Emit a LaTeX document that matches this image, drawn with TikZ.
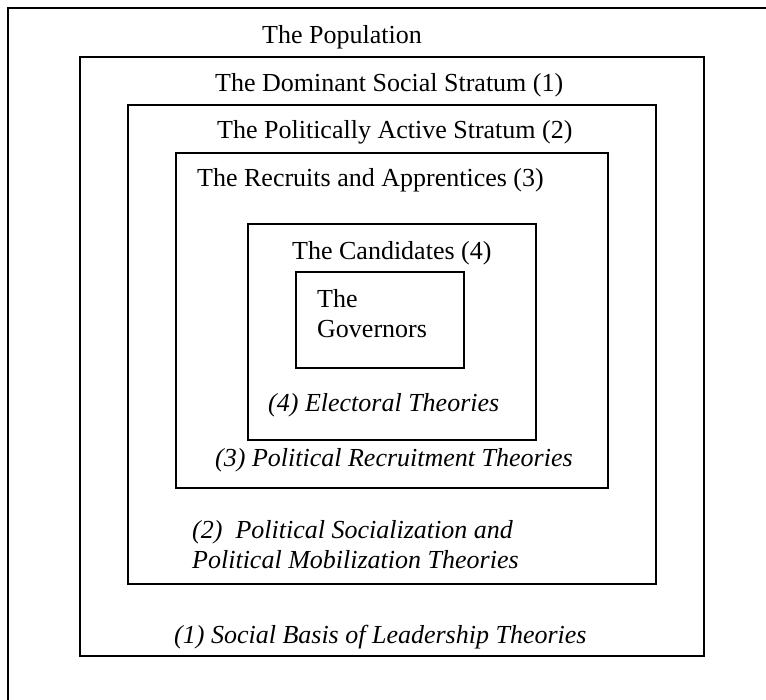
\documentclass[tikz,border=0pt]{standalone}
\usepackage{fontspec}
\setmainfont{Liberation Serif}
\usepackage{tikz}
\usetikzlibrary{positioning}
\tikzstyle{layer}=[%
      rectangle, draw=black, line width=1.3pt, fill=none, inner sep=0pt
]
\tikzstyle{stratum}=[%
      anchor=base west, inner sep=0pt, font=\fontsize{26}{30}\selectfont
]
\tikzstyle{theory}=[%
      anchor=base west, inner sep=0pt, align=left, font=\fontsize{26}{30}\selectfont\itshape
]

\begin{document}
\begin{tikzpicture}[x=1pt, y=-1pt]
    \useasboundingbox (0,0) rectangle (766,700);
    \clip (0,0) rectangle (766,700);

    % nested layers, outermost first
    \node[layer, minimum width=800pt, minimum height=740pt] (population) at (408,378) {};
    \node[layer, minimum width=624pt, minimum height=599pt] (dominant)   at (392,356.5) {};
    \node[layer, minimum width=528pt, minimum height=479pt] (active)     at (392,344.5) {};
    \node[layer, minimum width=432pt, minimum height=335pt] (recruits)   at (392,320.5) {};
    \node[layer, minimum width=288pt, minimum height=216pt] (candidates) at (392,332) {};
    \node[layer, minimum width=168pt, minimum height=96pt]  (governors)  at (380,320) {};

    % stratum names (base = last line)
    \node[stratum] (popname)  at (262,44)  {The Population};
    \node[stratum] (domname)  at (215,92)  {The Dominant Social Stratum (1)};
    \node[stratum] (actname)  at (217,139) {The Politically Active Stratum (2)};
    \node[stratum] (recname)  at (197,187) {The Recruits and Apprentices (3)};
    \node[stratum] (candname) at (292,260) {The Candidates (4)};
    \node[stratum, align=left] (govname) at (317,338) {The\\Governors};

    % theories
    \node[theory] (electoral)   at (268,412) {(4) Electoral Theories};
    \node[theory] (recruitment) at (215,467) {(3) Political Recruitment Theories};
    \node[theory] (socialize)   at (192,568) {(2)\ \ Political Socialization and\\Political Mobilization Theories};
    \node[theory] (basis)       at (174,643) {(1) Social Basis of Leadership Theories};
\end{tikzpicture}
\end{document}
